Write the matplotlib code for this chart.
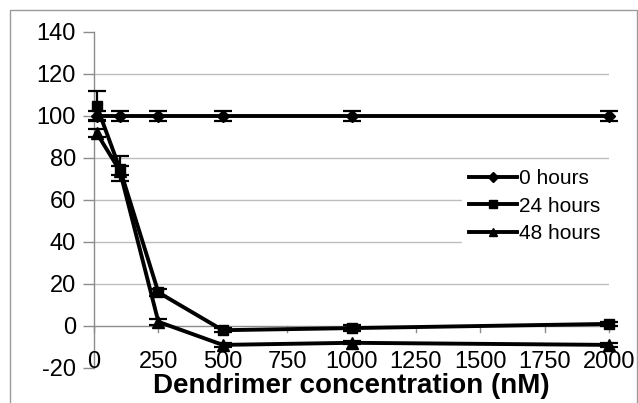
import matplotlib
matplotlib.use("Agg")
import matplotlib.pyplot as plt
from matplotlib.patches import Rectangle
from matplotlib.lines import Line2D

plt.rcParams['font.family'] = ['Liberation Sans', 'DejaVu Sans']
plt.rcParams['axes.unicode_minus'] = False

# Concentration series (nM) and viability (%) with error bars
concentration = [10, 100, 250, 500, 1000, 2000]
series_labels = ["0 hours", "24 hours", "48 hours"]
viability_0h = [100, 100, 100, 100, 100, 100]
viability_24h = [105, 75, 16, -2, -1, 1]
viability_48h = [92, 74, 2, -9, -8, -9]
error_0h = [2.5, 2.5, 2.5, 2.5, 2.5, 2.5]
error_24h = [7, 6, 1.5, 1, 1.5, 1]
error_48h = [2, 2, 1.5, 0.8, 0.8, 0.8]

x_ticks = [0, 250, 500, 750, 1000, 1250, 1500, 1750, 2000]
y_ticks = [-20, 0, 20, 40, 60, 80, 100, 120, 140]
x_label = "Dendrimer concentration (nM)"

W, H = 638, 403
fig = plt.figure(figsize=(W / 100, H / 100), dpi=100)
ax = fig.add_axes([94 / W, 1 - 368 / H, (609 - 94) / W, (368 - 32) / H])

grid_col = "#bdbdbd"
axis_col = "#8c8c8c"

ax.set_xlim(0, 2000)
ax.set_ylim(-20, 140)

# horizontal gridlines
for yv in y_ticks:
    if yv in (-20, 0, 140):
        continue
    ax.axhline(yv, color=grid_col, lw=1.0, zorder=0)

# spines: left full height, horizontal axis crossing at 0
for s in ("top", "right", "bottom"):
    ax.spines[s].set_visible(False)
ax.spines["left"].set_color(axis_col)
ax.spines["left"].set_linewidth(1.0)
ax.axhline(0, color=axis_col, lw=1.0, zorder=1)

ax.set_yticks(y_ticks)
ax.tick_params(axis="y", direction="out", length=8, width=1.0, color=axis_col,
               labelsize=17, pad=5)
ax.set_xticks([])
for xv in x_ticks:
    ax.plot([xv, xv], [0, -3], color=axis_col, lw=1.0, zorder=1, clip_on=False)
    ax.text(xv, -20, str(xv), ha="center", va="baseline", fontsize=17)

ax.text(0.5, -(393 - 368) / (368 - 32), x_label, transform=ax.transAxes,
        ha="center", va="baseline", fontsize=20, fontweight="bold")

markers = ["D", "s", "^"]
msizes = [6, 7.5, 8]
data = [viability_0h, viability_24h, viability_48h]
errs = [error_0h, error_24h, error_48h]
for vals, er, mk, ms, lab in zip(data, errs, markers, msizes, series_labels):
    ax.errorbar(concentration, vals, yerr=er, color="black", lw=2.8,
                marker=mk, ms=ms, elinewidth=1.6, capsize=6.5, capthick=1.6,
                label=lab, zorder=3, clip_on=False)

# legend handles without error bars
leg_handles = [Line2D([], [], color="black", lw=2.8, marker=mk, ms=ms * 0.8)
               for mk, ms in zip(markers, msizes)]
leg = ax.legend(leg_handles, series_labels, loc="upper left",
                bbox_to_anchor=((462 - 94) / (609 - 94), (368 - 162) / (368 - 32)),
                frameon=True, fontsize=15, handlelength=2.3, handletextpad=0.1,
                labelspacing=0.4, borderpad=0.35, borderaxespad=0)
leg.get_frame().set_facecolor("white")
leg.get_frame().set_edgecolor("white")
leg.get_frame().set_alpha(1.0)
leg.set_zorder(5)

# outer chart border
fig.patches.append(Rectangle((10 / W, -0.05), (637 - 10) / W, 1 - 10 / H + 0.05,
                             transform=fig.transFigure, fill=False,
                             edgecolor="#9a9a9a", lw=1.0))

fig.savefig("out.png", dpi=100)
